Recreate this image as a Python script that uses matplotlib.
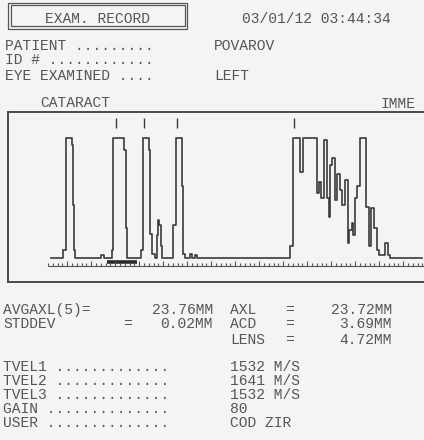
import numpy as np
import matplotlib.pyplot as plt
from matplotlib.patches import Rectangle

# A-scan trace: echo position (ruler units) and amplitude (% of full scale), step-wise
trace_pos = [3, 15, 18, 23.5, 24.5, 25.5, 27, 53, 56,
             63.5, 65, 76, 78, 79,
             93, 95, 100.5, 102, 104, 107, 108.5, 109.5, 111, 112.5, 114,
             125, 128, 133.5, 135, 137, 142, 144, 147, 149,
             242, 244.5, 252, 255, 268.5, 271, 273, 276, 279, 280.5, 282, 283.5,
             287, 289, 292, 294, 296.5, 299.5, 301, 303.5, 305, 307, 309, 312,
             318, 320.5, 323, 326, 328.5, 331, 337, 339.5, 342, 374]
trace_amp = [0, 6, 100, 94, 44, 6, 0, 2, 0,
             6, 100, 90, 25, 0,
             6, 100, 90, 20, 3, 0, 19, 31, 27, 10, 0,
             27, 100, 60, 3, 0, 3, 0, 2, 0,
             10, 100, 71, 100, 54, 63, 50, 98, 50, 34, 77, 83,
             48, 70, 56, 44, 65, 12, 23, 29, 19, 50, 60, 100,
             42, 10, 41, 25, 6, 2, 12, 2, 0, 0]

# gate markers above the echoes
marker_pos = [68, 95.5, 128.5, 245.5]
# thick bar under the baseline
bar_span = [58.7, 88.7]

header = [("PATIENT .........", "POVAROV"),
          ("ID # ............", ""),
          ("EYE EXAMINED ....", "LEFT")]
header_y = [50, 64, 80]

left_meas = [("AVGAXL(5)=", "", "23.76MM"), ("STDDEV", "=", "0.02MM")]
right_meas = [("AXL", "=", "23.72MM"), ("ACD", "=", "3.69MM"), ("LENS", "=", "4.72MM")]
meas_y = [314, 328, 344]

settings = [("TVEL1 .............", "1532 M/S"),
            ("TVEL2 .............", "1641 M/S"),
            ("TVEL3 .............", "1532 M/S"),
            ("GAIN ..............", "80"),
            ("USER ..............", "COD ZIR")]
settings_y = [371, 385, 399, 413, 427]

W, H = 424, 440
bg = '#f4f4f2'
ink = '#555555'
font = dict(family='Liberation Mono', fontsize=10.5, color=ink)

fig = plt.figure(figsize=(W / 100, H / 100), dpi=100, facecolor=bg)


def put(x, y, s, ha='left', **kw):
    fig.text(x / W, 1 - y / H, s, ha=ha, va='baseline', **font, **kw)


# header box
for x0, y0, w, h in [(8, 3, 179, 26), (10.5, 5.5, 174, 21)]:
    fig.patches.append(Rectangle((x0 / W, 1 - (y0 + h) / H), w / W, h / H,
                                 transform=fig.transFigure, fill=False,
                                 ec=ink, lw=0.9))
put(97.5, 23, "EXAM. RECORD", ha='center')
put(316, 23, "03/01/12 03:44:34", ha='center')

for (lab, val), y in zip(header, header_y):
    put(5, y, lab)
    put(214, y, val)

put(40, 107, "CATARACT")
put(380, 108, "IMME")

# trace box
ax = fig.add_axes([7.5 / W, (H - 282) / H, 440 / W, 170 / H])
ax.set_facecolor(bg)
ax.set_xlim(-40.5, 399.5)
ax.set_ylim(-20.4, 121.25)
ax.set_xticks([])
ax.set_yticks([])
for s in ax.spines.values():
    s.set_color('#4a4a4a')
    s.set_linewidth(1.4)

ax.plot(trace_pos, trace_amp, drawstyle='steps-post', color='#3a3a3a', lw=1.2)
ax.vlines(marker_pos, 108, 116, color='#3a3a3a', lw=1.0)
ax.plot(bar_span, [-3.5, -3.5], color='#2a2a2a', lw=2.6, solid_capstyle='butt')

# ruler
ruler = np.arange(0, 377, 4.8)
ax.hlines(-7.1, 0, 376, color='#555555', lw=0.8)
for i, p in enumerate(ruler):
    top = -2.8 if i % 5 == 4 else -4.6
    ax.vlines(p, -7.1, top, color='#555555', lw=0.8)

# measurements
for (lab, eq, val), y in zip(left_meas, meas_y):
    put(3, y, lab)
    if eq:
        put(127, y, eq, ha='center')
    put(213, y, val, ha='right')
for (lab, eq, val), y in zip(right_meas, meas_y):
    put(230, y, lab)
    put(289, y, eq, ha='center')
    put(392, y, val, ha='right')

for (lab, val), y in zip(settings, settings_y):
    put(3, y, lab)
    put(230, y, val)

fig.savefig('out.png', dpi=100, facecolor=bg)
